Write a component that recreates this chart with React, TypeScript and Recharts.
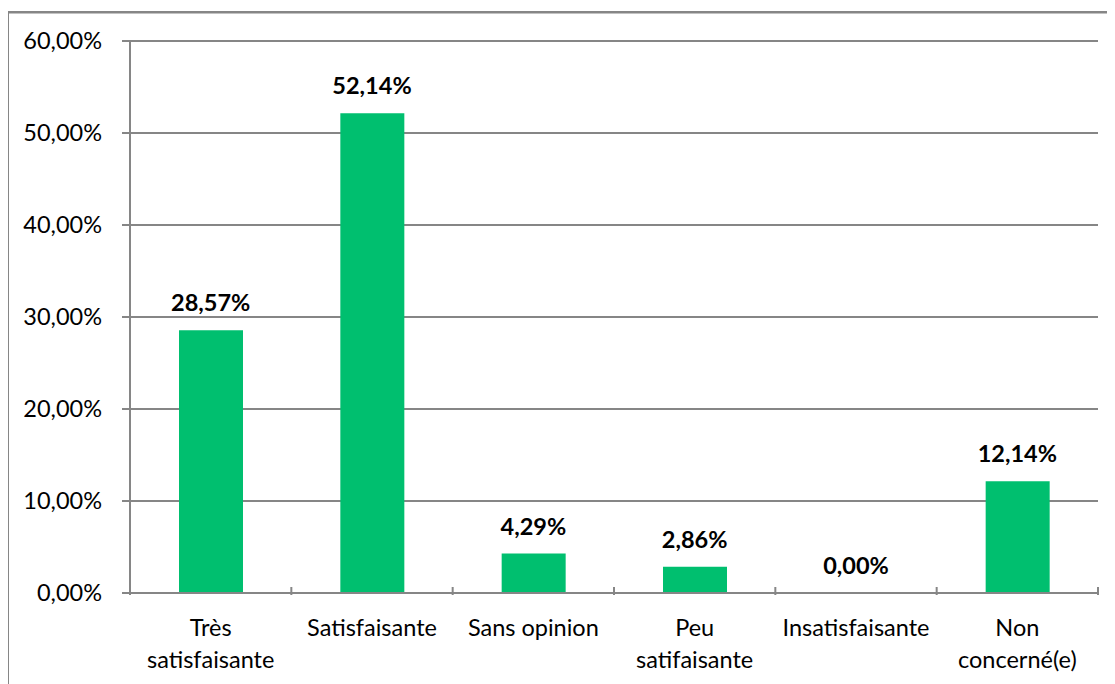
import React from "react";
import { Bar, CartesianGrid, ComposedChart, LabelList, Line, XAxis, YAxis } from "recharts";

const categories = [
  "Très\nsatisfaisante",
  "Satisfaisante",
  "Sans opinion",
  "Peu\nsatifaisante",
  "Insatisfaisante",
  "Non\nconcerné(e)",
];
const percents = [28.57, 52.14, 4.29, 2.86, 0.0, 12.14];
const yTicks = [0, 10, 20, 30, 40, 50, 60];

const data = categories.map((name, i) => ({ name, value: percents[i] }));

const FONT = "Lato, 'Open Sans', sans-serif";
const GREY = "#868686";
const FS = 23.5;

const fmt = (v: number) => v.toFixed(2).replace(".", ",") + "%";

function CategoryTick(props: any) {
  const { x, y, payload, index, visibleTicksCount } = props;
  const half = payload?.offset || 968 / 12;
  const lines = String(payload.value).split("\n");
  const last = index === (visibleTicksCount ?? categories.length) - 1;
  return (
    <g>
      <line x1={x - half} y1={y - 8} x2={x - half} y2={y} stroke={GREY} strokeWidth={2} />
      {last && <line x1={x + half} y1={y - 8} x2={x + half} y2={y} stroke={GREY} strokeWidth={2} />}
      {lines.map((l, i) => (
        <text
          key={i}
          x={x}
          y={y + 41 + i * 32}
          textAnchor="middle"
          fontFamily={FONT}
          fontSize={FS}
          fill="#000"
        >
          {l}
        </text>
      ))}
    </g>
  );
}

function TopLabel(props: any) {
  const { x, y, width, value } = props;
  return (
    <text
      x={x + (width || 0) / 2}
      y={y - 19}
      textAnchor="middle"
      fontFamily={FONT}
      fontSize={FS}
      fontWeight="bold"
      fill="#000"
    >
      {fmt(Number(value))}
    </text>
  );
}

export default function App() {
  return (
    <div style={{ margin: "-8px 0 0 -8px", width: 1115, height: 684, position: "relative", background: "#fff" }}>
      <svg
        width={1115}
        height={684}
        style={{ position: "absolute", left: 0, top: 0 }}
      >
        <rect x={7} y={11} width={1108} height={2.5} fill={GREY} />
        <rect x={7} y={11} width={2} height={673} fill={GREY} />
      </svg>
      <div style={{ position: "absolute", left: 0, top: 0 }}>
        <ComposedChart
          width={1115}
          height={684}
          data={data}
          margin={{ top: 41, right: 17, left: 0, bottom: 0 }}
        >
          <CartesianGrid vertical={false} stroke={GREY} strokeWidth={2} />
          <XAxis
            dataKey="name"
            height={91}
            interval={0}
            tickLine={false}
            axisLine={{ stroke: GREY, strokeWidth: 2 }}
            tick={<CategoryTick />}
            tickSize={0}
          />
          <YAxis
            width={130}
            domain={[0, 60]}
            ticks={yTicks}
            tickFormatter={(v: number) => fmt(v)}
            tickSize={8}
            tickMargin={20}
            tickLine={{ stroke: GREY, strokeWidth: 2 }}
            axisLine={{ stroke: GREY, strokeWidth: 2 }}
            tick={{ fontFamily: FONT, fontSize: FS, fill: "#000" }}
          />
          <Bar dataKey="value" fill="#00BF6F" barSize={64} isAnimationActive={false} />
          <Line
            dataKey="value"
            stroke="none"
            dot={false}
            activeDot={false}
            legendType="none"
            isAnimationActive={false}
          >
            <LabelList dataKey="value" content={<TopLabel />} />
          </Line>
        </ComposedChart>
      </div>
    </div>
  );
}
